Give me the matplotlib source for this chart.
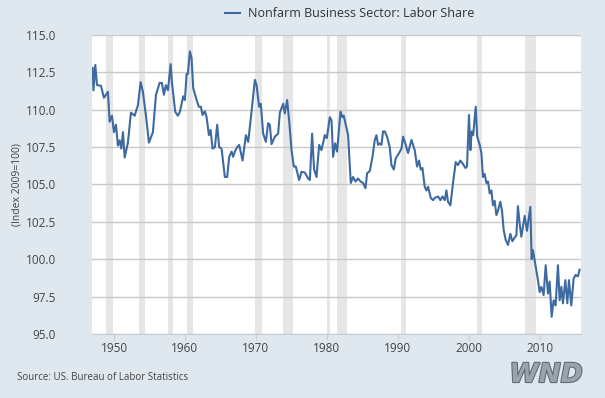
import matplotlib.pyplot as plt
import matplotlib.patheffects as pe

# labor share readings (year, index 2009=100)
years = [1947.0, 1947.11, 1947.37, 1947.61, 1948.17, 1948.59, 1949.15, 1949.39, 1949.72, 1950.0,
         1950.28, 1950.56, 1950.80, 1951.03, 1951.27, 1951.51, 1951.97, 1952.39, 1952.92, 1953.38,
         1953.76, 1954.08, 1954.51, 1954.93, 1955.49, 1955.92, 1956.44, 1956.76, 1957.04, 1957.32,
         1957.61, 1957.99, 1958.17, 1958.63, 1959.01, 1959.30, 1959.76, 1960.0, 1960.24, 1960.42,
         1960.70, 1960.94, 1961.17, 1961.65, 1961.97, 1962.25, 1962.49, 1962.82, 1963.06, 1963.38,
         1963.62, 1963.90, 1964.23, 1964.55, 1964.83, 1965.17, 1965.63, 1965.96, 1966.24, 1966.58,
         1966.80, 1967.04, 1967.37, 1967.65, 1968.13, 1968.59, 1968.92, 1969.39, 1969.86, 1970.10,
         1970.46, 1970.70, 1971.03, 1971.41, 1971.73, 1971.97, 1972.21, 1972.68, 1973.14, 1973.38,
         1973.85, 1974.08, 1974.41, 1974.69, 1975.03, 1975.35, 1975.63, 1976.10, 1976.44, 1976.90,
         1977.37, 1977.61, 1977.93, 1978.21, 1978.55, 1978.92, 1979.25, 1979.72, 1980.0, 1980.42,
         1980.66, 1980.89, 1981.17, 1981.45, 1981.93, 1982.21, 1982.39, 1983.0, 1983.38, 1983.70,
         1984.04, 1984.41, 1984.75, 1985.11, 1985.45, 1985.68, 1986.06, 1986.44, 1986.76, 1987.0,
         1987.23, 1987.46, 1987.70, 1987.93, 1988.17, 1988.49, 1988.87, 1989.11, 1989.44, 1989.72,
         1990.18, 1990.52, 1990.75, 1991.13, 1991.45, 1991.93, 1992.39, 1992.72, 1993.0, 1993.24,
         1993.48, 1993.80, 1994.04, 1994.27, 1994.65, 1994.97, 1995.21, 1995.68, 1996.01, 1996.30,
         1996.62, 1996.86, 1997.08, 1997.42, 1997.79, 1998.17, 1998.49, 1998.83, 1999.15, 1999.54,
         1999.76, 2000.04, 2000.24, 2000.42, 2000.63, 2000.99, 2001.20, 2001.55, 2001.79, 2002.01,
         2002.25, 2002.49, 2002.72, 2002.96, 2003.20, 2003.42, 2003.66, 2003.90, 2004.13, 2004.46,
         2004.69, 2004.93, 2005.21, 2005.54, 2005.87, 2006.15, 2006.41, 2006.72, 2006.94, 2007.18,
         2007.42, 2007.89, 2008.21, 2008.69, 2008.87, 2009.06, 2009.44, 2009.76, 2010.0, 2010.24,
         2010.56, 2010.85, 2011.17, 2011.41, 2011.69, 2011.97, 2012.25, 2012.58, 2012.82, 2013.06,
         2013.28, 2013.62, 2013.90, 2014.13, 2014.46, 2014.79, 2015.07, 2015.40, 2015.63]
share = [112.8, 111.3, 113.0, 111.65, 111.6, 110.8, 111.2, 109.2, 109.6, 108.5,
         109.0, 107.6, 107.95, 107.4, 108.5, 106.8, 107.8, 109.8, 109.6, 110.3,
         111.85, 111.2, 109.6, 107.8, 108.5, 111.0, 111.8, 111.8, 111.0, 111.65,
         111.3, 113.05, 111.85, 109.87, 109.6, 109.87, 110.9, 110.65, 112.4, 112.4,
         113.9, 113.45, 111.45, 110.65, 110.2, 110.2, 109.65, 109.9, 109.5, 108.3,
         108.65, 107.4, 107.5, 109.0, 107.5, 107.4, 105.5, 105.5, 106.85, 107.2,
         106.85, 107.2, 107.5, 107.65, 106.6, 108.3, 107.85, 109.85, 112.0, 111.65,
         110.2, 110.4, 108.4, 107.85, 109.1, 109.0, 107.7, 108.2, 108.4, 109.8,
         110.4, 109.75, 110.65, 109.3, 107.3, 106.2, 106.2, 105.3, 105.85, 105.8,
         105.4, 105.3, 108.4, 106.0, 105.5, 107.65, 107.3, 108.3, 108.1, 109.5,
         109.3, 106.85, 107.75, 107.2, 109.87, 109.5, 109.6, 108.3, 105.1, 105.5,
         105.2, 105.4, 105.2, 105.1, 104.75, 105.75, 105.9, 106.85, 107.98, 108.3,
         107.65, 107.75, 107.65, 108.55, 108.55, 108.2, 107.5, 106.3, 106.0, 106.75,
         107.1, 107.4, 108.2, 107.65, 107.1, 107.98, 107.3, 106.2, 106.6, 106.0,
         106.1, 104.85, 104.6, 104.85, 104.1, 103.95, 104.1, 104.2, 103.95, 104.2,
         103.95, 104.6, 103.85, 103.6, 105.1, 106.5, 106.3, 106.6, 106.4, 106.1,
         106.2, 109.65, 107.3, 108.55, 108.3, 110.2, 108.2, 107.65, 107.1, 105.5,
         105.7, 105.1, 105.2, 104.4, 104.6, 103.6, 103.9, 102.95, 103.25, 103.85,
         103.25, 101.95, 101.3, 100.95, 101.7, 101.2, 101.4, 101.6, 103.55, 102.4,
         101.5, 102.9, 101.9, 103.5, 100.0, 100.6, 99.5, 98.6, 97.8, 98.15,
         97.6, 99.6, 97.7, 98.5, 96.15, 97.25, 96.9, 99.6, 97.25, 98.15,
         97.05, 98.6, 97.05, 98.6, 96.9, 98.7, 98.95, 98.85, 99.3]

# recession periods (start, end)
rec_start = [1948.83, 1953.5, 1957.58, 1960.25, 1969.92, 1973.83, 1980.0, 1981.5, 1990.5, 2001.17, 2007.92]
rec_end = [1949.83, 1954.33, 1958.33, 1961.08, 1970.83, 1975.17, 1980.5, 1982.83, 1991.17, 2001.83, 2009.42]

yticks = [95.0, 97.5, 100.0, 102.5, 105.0, 107.5, 110.0, 112.5, 115.0]
xticks = [1950, 1960, 1970, 1980, 1990, 2000, 2010]

plt.rcParams['font.family'] = ['Open Sans', 'DejaVu Sans']
bg = '#dfe7ef'
fig = plt.figure(figsize=(6.05, 3.98), dpi=100, facecolor=bg)
ax = fig.add_axes([0.152, 0.161, 0.808, 0.751])
ax.set_facecolor('white')

for s, e in zip(rec_start, rec_end):
    ax.axvspan(s, e, color='#e6e6e6', lw=0, zorder=1)

ax.plot(years, share, color='#3d6aa0', lw=1.5, zorder=3, label='Nonfarm Business Sector: Labor Share')

ax.set_xlim(1946.9, 2015.8)
ax.set_ylim(95, 115)
ax.set_yticks(yticks)
ax.set_yticklabels(['%.1f' % v for v in yticks])
ax.set_xticks(xticks)
ax.set_xticklabels([str(v) for v in xticks])
ax.grid(axis='y', color='#c8c8c8', lw=1, zorder=2)
ax.set_axisbelow(False)
for s in ['top', 'right', 'left']:
    ax.spines[s].set_visible(False)
ax.spines['bottom'].set_color('#c8cdd2')
ax.tick_params(axis='y', length=0, pad=26, labelsize=8.5, labelcolor='#444444')
ax.tick_params(axis='x', length=4, color='#c8cdd2', labelsize=8.5, labelcolor='#444444', pad=2)
for t in ax.get_yticklabels():
    t.set_horizontalalignment('right')

ax.set_ylabel('(Index 2009=100)', fontsize=7.5, color='#444444', labelpad=2)

leg = fig.legend(loc='center', bbox_to_anchor=(0.578, 0.965), frameon=False, fontsize=9,
                 handlelength=1.2, handletextpad=0.6)
for t in leg.get_texts():
    t.set_color('#333333')

fig.text(0.028, 0.045, 'Source: US. Bureau of Labor Statistics', fontsize=7, color='#444444')
fig.text(0.963, 0.04, 'WND', fontsize=19, fontweight='bold', fontstyle='italic', ha='right',
         color='#9aa3ac', family='DejaVu Sans',
         path_effects=[pe.withStroke(linewidth=1.5, foreground='#5f6870')])

fig.savefig('out.png', dpi=100, facecolor=bg)
